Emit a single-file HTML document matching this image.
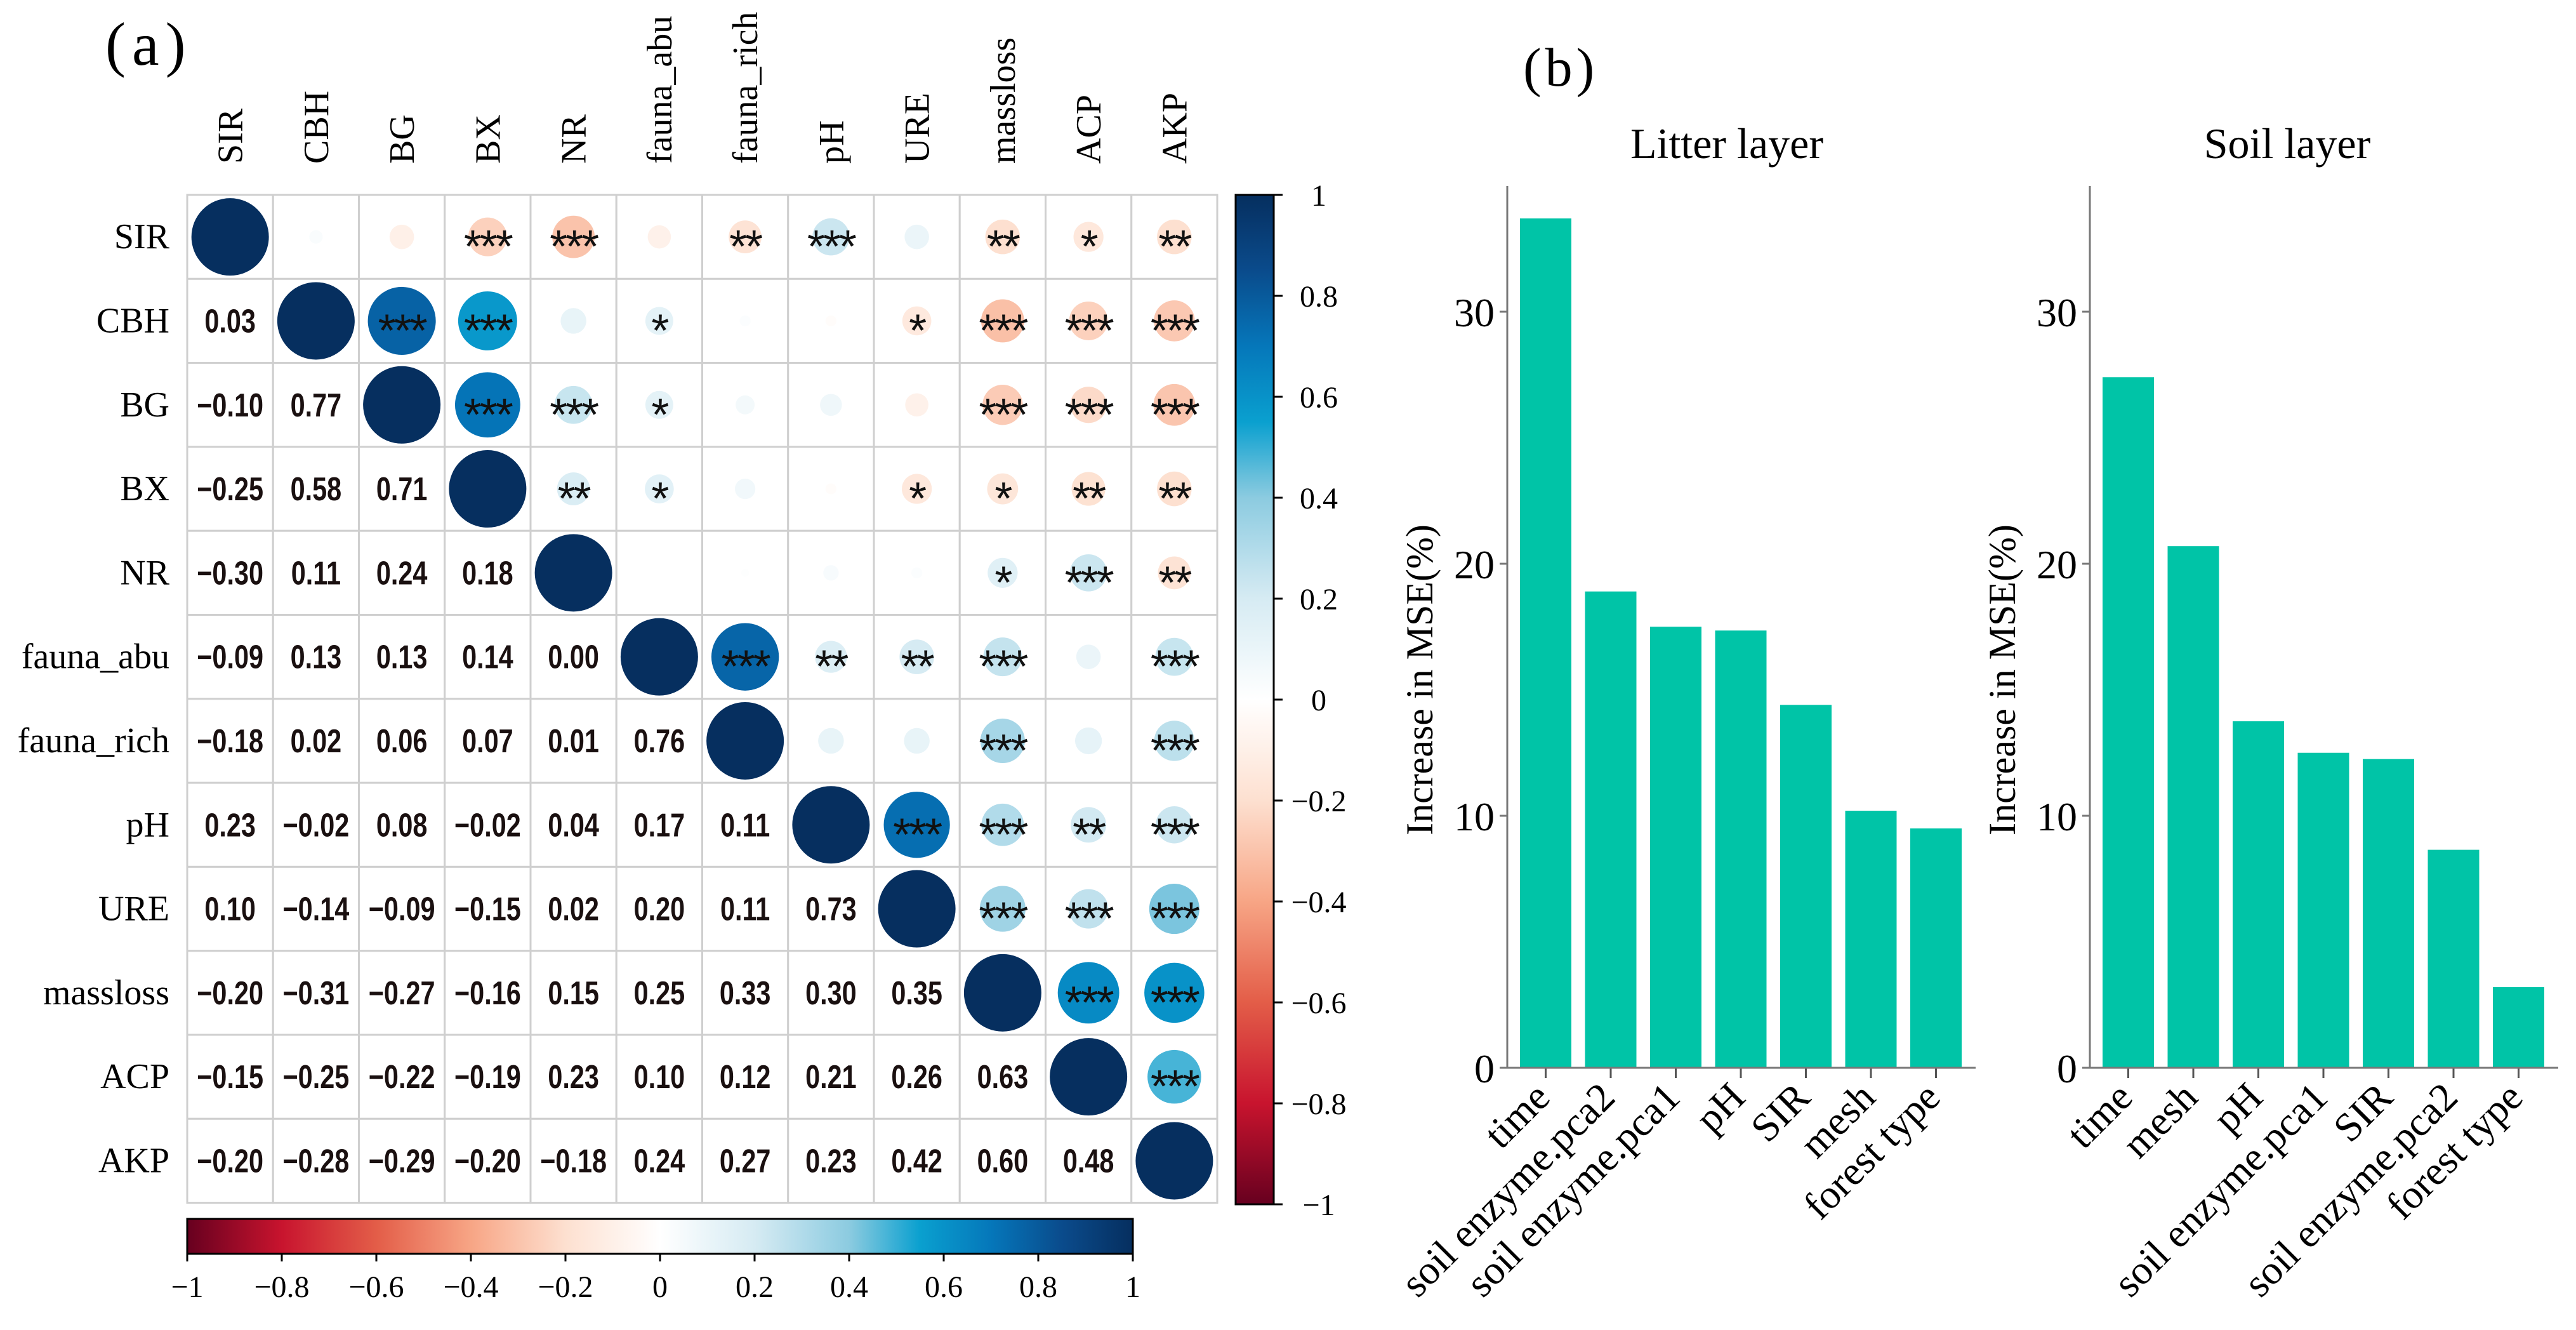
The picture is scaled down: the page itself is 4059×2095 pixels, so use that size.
<!DOCTYPE html>
<html><head><meta charset="utf-8"><style>
html,body{margin:0;padding:0;background:#fff;}
svg{display:block;}
</style></head><body>
<svg id="fig" width="4059" height="2095" viewBox="0 0 4059 2095" xmlns="http://www.w3.org/2000/svg">
<text x="166" y="102" font-family="Liberation Serif, serif" font-size="96" letter-spacing="10">(a)</text>
<text x="2400" y="135" font-family="Liberation Serif, serif" font-size="86" letter-spacing="6">(b)</text>
<g id="corr"></g>
<g id="cbars"></g>
<g id="bars"></g>
</svg>
<script>
const vars = ["SIR","CBH","BG","BX","NR","fauna_abu","fauna_rich","pH","URE","massloss","ACP","AKP"];
const lowerVals = [
 [],
 [0.03],
 [-0.10,0.77],
 [-0.25,0.58,0.71],
 [-0.30,0.11,0.24,0.18],
 [-0.09,0.13,0.13,0.14,0.00],
 [-0.18,0.02,0.06,0.07,0.01,0.76],
 [0.23,-0.02,0.08,-0.02,0.04,0.17,0.11],
 [0.10,-0.14,-0.09,-0.15,0.02,0.20,0.11,0.73],
 [-0.20,-0.31,-0.27,-0.16,0.15,0.25,0.33,0.30,0.35],
 [-0.15,-0.25,-0.22,-0.19,0.23,0.10,0.12,0.21,0.26,0.63],
 [-0.20,-0.28,-0.29,-0.20,-0.18,0.24,0.27,0.23,0.42,0.60,0.48]
];
const upperStars = [
 ["","","***","***","","**","***","","**","*","**"],
 ["***","***","","*","","","*","***","***","***"],
 ["***","***","*","","","","***","***","***"],
 ["**","*","","","*","*","**","**"],
 ["","","","","*","***","**"],
 ["***","**","**","***","","***"],
 ["","","***","","***"],
 ["***","***","**","***"],
 ["***","***","***"],
 ["***","***"],
 ["***"]
];
const cbTicks = [-1,-0.8,-0.6,-0.4,-0.2,0,0.2,0.4,0.6,0.8,1];
const litterCats = ["time","soil enzyme.pca2","soil enzyme.pca1","pH","SIR","mesh","forest type"];
const litterVals = [33.7,18.9,17.5,17.35,14.4,10.2,9.5];
const soilCats = ["time","mesh","pH","soil enzyme.pca1","SIR","soil enzyme.pca2","forest type"];
const soilVals = [27.4,20.7,13.75,12.5,12.25,8.65,3.2];
const yTicks = [0,10,20,30];

const NS="http://www.w3.org/2000/svg";
function mk(tag,attrs,parent,txt){const e=document.createElementNS(NS,tag);for(const k in attrs)e.setAttribute(k,attrs[k]);if(txt!==undefined)e.textContent=txt;parent.appendChild(e);return e;}
const stops=[[-1,[103,0,31]],[-0.8,[200,20,46]],[-0.6,[227,93,72]],[-0.4,[247,165,133]],[-0.2,[253,224,208]],[0,[255,255,255]],[0.2,[214,235,243]],[0.4,[140,203,224]],[0.55,[10,160,207]],[0.7,[5,119,186]],[0.85,[10,75,140]],[1,[6,47,95]]];
function col(v){for(let i=0;i<stops.length-1;i++){const a=stops[i],b=stops[i+1];if(v<=b[0]){const t=(v-a[0])/(b[0]-a[0]);const c=a[1].map((x,k)=>Math.round(x+(b[1][k]-x)*t));return `rgb(${c.join(',')})`;}}return 'rgb(6,47,95)';}
function corrAt(i,j){if(i===j)return 1;return i>j?lowerVals[i][j]:lowerVals[j][i];}

const GX=295,GY=307,CW=135.25,CH=132.3,N=vars.length;
const cx=j=>GX+CW*(j+0.5), cy=i=>GY+CH*(i+0.5);
const corr=document.getElementById('corr');
for(let i=0;i<N;i++){
  for(let j=0;j<N;j++){
    const r=mk('rect',{x:GX+CW*j,y:GY+CH*i,width:CW,height:CH,fill:'#fff',stroke:'#cfcfcf','stroke-width':3},corr);
    
    
  }
}
for(let i=0;i<N;i++){
  const rl=mk('text',{x:GX-28,y:cy(i)+18,'text-anchor':'end','font-family':'Liberation Serif, serif','font-size':56},corr,vars[i]);
  
  
  const cl=mk('text',{x:0,y:0,'text-anchor':'start','font-family':'Liberation Serif, serif','font-size':56,transform:`translate(${cx(i)+19},258) rotate(-90)`},corr,vars[i]);
  
  
  for(let j=0;j<N;j++){
    const v=corrAt(i,j);
    if(j>=i){
      const c=mk('circle',{cx:cx(j),cy:cy(i),r:61*Math.sqrt(Math.abs(v)),fill:col(v)},corr);
      
      
      if(j>i){
        const s=upperStars[i][j-i-1];
        if(s){
          const st=mk('text',{x:cx(j),y:cy(i)+40,'text-anchor':'middle','font-family':'Liberation Sans, sans-serif','font-size':72,fill:'#111','letter-spacing':'-3'},corr,s);
          
          
        }
      }
    } else {
      const t=mk('text',{x:0,y:0,'text-anchor':'middle','font-family':'Liberation Sans, sans-serif','font-weight':'bold','font-size':46,fill:'#1a1010',transform:`translate(${cx(j)},${cy(i)+18}) scale(0.9,1.12)`},corr,(v<0?'\u2212':'')+Math.abs(v).toFixed(2));
      
      
    }
  }
}

const cb=document.getElementById('cbars');
const defs=mk('defs',{},cb);
const gv=mk('linearGradient',{id:'gv',x1:0,y1:1,x2:0,y2:0},defs);
const gh=mk('linearGradient',{id:'gh',x1:0,y1:0,x2:1,y2:0},defs);
for(let k=0;k<=40;k++){const v=-1+k/20;mk('stop',{offset:(k/40),'stop-color':col(v)},gv);mk('stop',{offset:(k/40),'stop-color':col(v)},gh);}
const VX=1947,VW=60,VT=307,VB=1897;
const vr=mk('rect',{x:VX,y:VT,width:VW,height:VB-VT,fill:'url(#gv)',stroke:'#000','stroke-width':3},cb);


const HX=295,HX2=1785,HT=1920,HB=1975;
const hr=mk('rect',{x:HX,y:HT,width:HX2-HX,height:HB-HT,fill:'url(#gh)',stroke:'#000','stroke-width':3},cb);


const vy=v=>VB-(v+1)/2*(VB-VT), hx=v=>HX+(v+1)/2*(HX2-HX);
cbTicks.forEach(v=>{
  const lab=(v<0?'\u2212':'')+String(Math.abs(v));
  mk('line',{x1:VX+VW,x2:VX+VW+14,y1:vy(v),y2:vy(v),stroke:'#000','stroke-width':3},cb);
  const t=mk('text',{x:2078,y:vy(v)+17,'text-anchor':'middle','font-family':'Liberation Serif, serif','font-size':48},cb,lab);
  
  
  mk('line',{x1:hx(v),x2:hx(v),y1:HB,y2:HB+12,stroke:'#000','stroke-width':3},cb);
  const t2=mk('text',{x:hx(v),y:2043,'text-anchor':'middle','font-family':'Liberation Serif, serif','font-size':48},cb,lab);
  
  
});

const bars=document.getElementById('bars');
function barChart(name,title,cats,vals,axisX,titleX){
  const g=mk('g',{},bars);
  
  
  const base=1682,unit=39.7,x0=axisX+20,step=102.5,bw=81;
  const y=v=>base-v*unit, x=i=>x0+i*step;
  const tt=mk('text',{x:titleX,y:249,'text-anchor':'middle','font-family':'Liberation Serif, serif','font-size':68},g,title);
  
  
  vals.forEach((v,i)=>{
    const r=mk('rect',{x:x(i),y:y(v),width:bw,height:base-y(v),fill:'#00c4a7'},g);
    
    
    const c=x(i)+bw/2;
    mk('line',{x1:c,x2:c,y1:base,y2:base+16,stroke:'#555','stroke-width':3},g);
    const l=mk('text',{x:0,y:0,'text-anchor':'end','font-family':'Liberation Serif, serif','font-size':64,transform:`translate(${c+10},${base+50}) rotate(-45)`},g,cats[i]);
    
    
  });
  mk('line',{x1:axisX,x2:axisX,y1:293,y2:base,stroke:'#777','stroke-width':3},g);
  mk('line',{x1:axisX-12,x2:x(vals.length-1)+bw+22,y1:base,y2:base,stroke:'#777','stroke-width':3},g);
  yTicks.forEach(v=>{
    mk('line',{x1:axisX-12,x2:axisX,y1:y(v),y2:y(v),stroke:'#777','stroke-width':3},g);
    const t=mk('text',{x:axisX-20,y:y(v)+23,'text-anchor':'end','font-family':'Liberation Serif, serif','font-size':64},g,String(v));
    
    
  });
  const yt=mk('text',{x:0,y:0,'text-anchor':'middle','font-family':'Liberation Serif, serif','font-size':60,transform:`translate(${axisX-118},1071) rotate(-90)`},g,'Increase in MSE(%)');
  
  
}
barChart('litter','Litter layer',litterCats,litterVals,2375,2721);
barChart('soil','Soil layer',soilCats,soilVals,3293,3604);
</script>
</body></html>
